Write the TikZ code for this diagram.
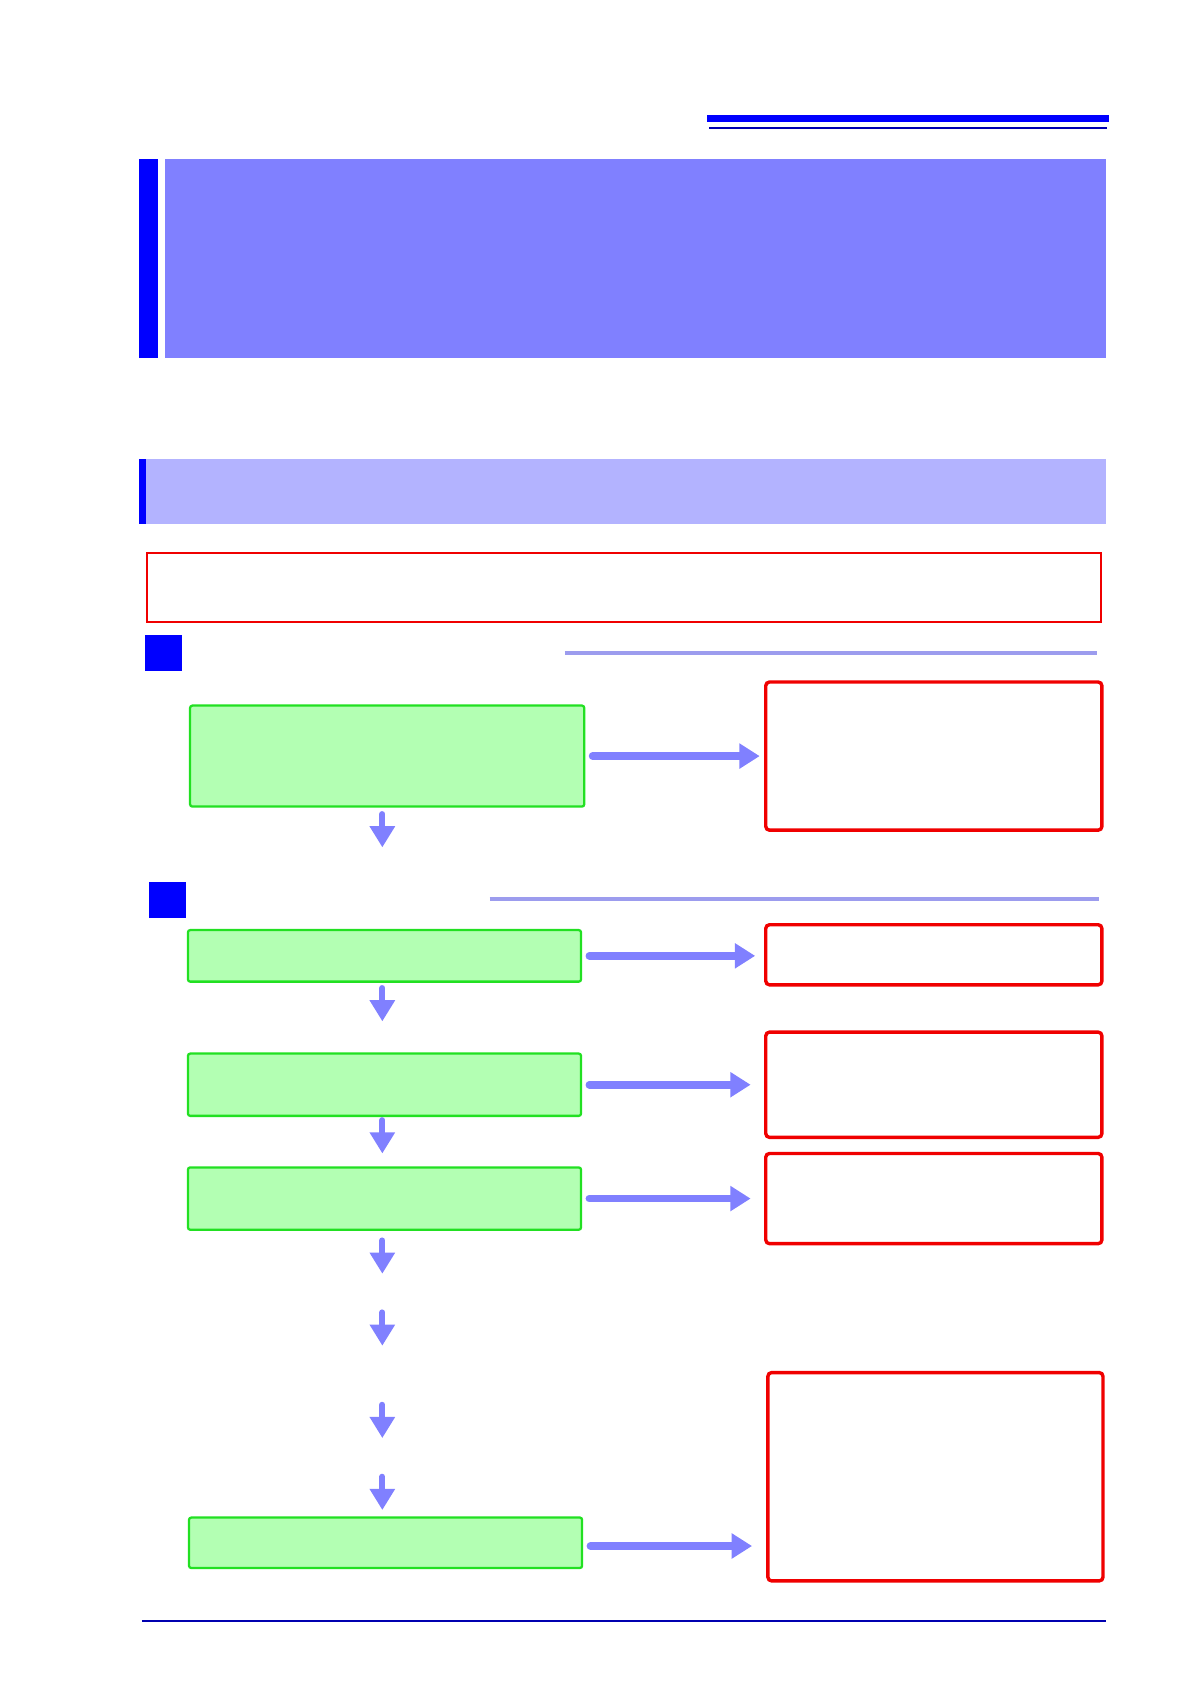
\documentclass[tikz,border=0pt]{standalone}
\usetikzlibrary{arrows.meta}
\definecolor{headblue}{HTML}{0000FF}
\definecolor{lavender}{HTML}{8080FF}
\definecolor{palelav}{HTML}{B3B3FF}
\definecolor{rulelav}{HTML}{9C9CEE}
\definecolor{stepfill}{HTML}{B3FFB3}
\definecolor{stepline}{HTML}{22E022}
\definecolor{notered}{HTML}{F00000}
\definecolor{footblue}{HTML}{0000B0}
\begin{document}
\begin{tikzpicture}[x=0.5mm,y=-0.5mm,
  stepbox/.style={draw=stepline, fill=stepfill, line width=3pt, rounded corners=3pt,
    inner sep=0pt, outer sep=0pt, minimum width=183mm},
  notebox/.style={draw=notered, line width=4.5pt, rounded corners=5pt,
    inner sep=0pt, outer sep=0pt, minimum width=156.5mm},
  goright/.style={lavender, line width=10pt, line cap=round,
    -{Triangle[length=27pt,width=32pt]}},
  godown/.style={lavender, line width=8pt, line cap=round,
    -{Triangle[length=28pt,width=32pt]}}]
  \useasboundingbox (0,0) rectangle (1108,1568);

  % page head
  \fill[headblue] (658,107.5) rectangle (1033,113.5);
  \draw[footblue, line width=3pt] (660,119.5) -- (1031,119.5);

  % chapter title block
  \fill[headblue] (129,148) rectangle (147,333);
  \fill[lavender] (154,148) rectangle (1030,333);

  % section title
  \fill[palelav] (136,427) rectangle (1030,488);
  \fill[headblue] (129,427) rectangle (136,488);

  % note frame
  \draw[notered, line width=2.5pt] (137,515) rectangle (1025,579);

  % part marks and rules
  \fill[headblue] (135,591) rectangle (169,625);
  \draw[rulelav, line width=5pt] (526,608) -- (1021,608);
  \fill[headblue] (139,821) rectangle (173,855);
  \draw[rulelav, line width=5pt] (456,837) -- (1023,837);

  % steps
  \node[stepbox, minimum width=183.5mm, minimum height=47mm] (g1) at (360.5,704) {};
  \node[stepbox, minimum height=24mm] (g2) at (358,890) {};
  \node[stepbox, minimum height=29mm] (g3) at (358,1010) {};
  \node[stepbox, minimum height=29mm] (g4) at (358,1116) {};
  \node[stepbox, minimum height=23.5mm] (g5) at (359,1436.5) {};

  % notes
  \node[notebox, minimum height=69mm] (r1) at (869.5,704) {};
  \node[notebox, minimum height=28mm] (r2) at (869.5,889) {};
  \node[notebox, minimum height=49mm] (r3) at (869.5,1010) {};
  \node[notebox, minimum height=42mm] (r4) at (869.5,1116) {};
  \node[notebox, minimum width=156mm, minimum height=97mm] (r5) at (871,1375) {};

  % step to note
  \draw[goright, shorten <=11pt, shorten >=8pt] (g1.east) -- (g1.east -| r1.west);
  \draw[goright, shorten <=11pt, shorten >=14pt] (g2.east) -- (g2.east -| r2.west);
  \draw[goright, shorten <=11pt, shorten >=20pt] (g3.east) -- (g3.east -| r3.west);
  \draw[goright, shorten <=11pt, shorten >=20pt] (g4.east) -- (g4.east -| r4.west);
  \draw[goright, shorten <=11pt, shorten >=21pt] (g5.east) ++(0,3) -- ++(173,0);

  % step to step
  \foreach \y in {758,920,1043,1155,1222,1308,1375}
    \draw[godown] (356,\y) -- ++(0,31);

  % page foot
  \draw[footblue, line width=3pt] (132,1509) -- (1030,1509);
\end{tikzpicture}
\end{document}
